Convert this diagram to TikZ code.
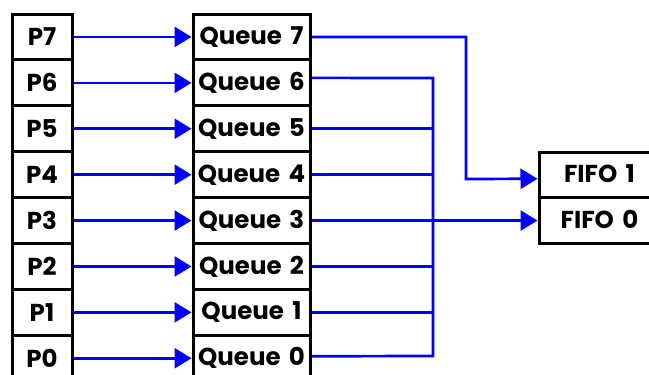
\documentclass[tikz,border=0pt]{standalone}
\usepackage{fontspec}
\setmainfont{Poppins}[WordSpace=1.6]
\usetikzlibrary{arrows.meta,calc}
\begin{document}
\begin{tikzpicture}[x=1pt,y=-1pt,
  box/.style={draw=black,line width=3pt,rectangle,inner sep=0pt,font=\fontsize{24.5}{24.5}\selectfont\bfseries},
  pbox/.style={box,minimum width=60pt,minimum height=45.9pt},
  qbox/.style={box,minimum width=117pt,minimum height=45.9pt},
  fbox/.style={box,minimum width=121pt,minimum height=45.5pt},
  link/.style={draw=blue,line width=2.7pt},
  arr/.style={link,-{Triangle[length=17pt,width=20pt]}}]
\useasboundingbox (0,0) rectangle (649,375);
\clip (0,0) rectangle (649,375);
\foreach \i in {0,...,7} {
  \pgfmathsetmacro\yc{14+22.95+(7-\i)*45.9}
  \node[pbox] (P\i) at (42,\yc) {\raisebox{-3pt}{P\i}};
  \node[qbox] (Q\i) at (251.5,\yc) {\raisebox{2pt}{Queue \i}};
  \draw[arr] (P\i) -- (Q\i);
}
\node[fbox] (F1) at (599.5,174.75) {\raisebox{2pt}{FIFO 1}};
\node[fbox] (F0) at (599.5,220.25) {\raisebox{2pt}{FIFO 0}};
\coordinate (k7) at (466,179);
\draw[arr] (Q7.east) -| (k7) -- ($(F1.west)+(0,4)$);
\coordinate (b6) at (433,78);
\coordinate (b0) at (433,356);
\draw[link] ($(Q6.east)+(0,-5)$) -- (b6) -- (b0) -- ($(Q0.east)+(0,-2)$);
\foreach \i in {5,4,2,1} {
  \draw[link] (Q\i.east) -- (Q\i.east -| b6);
}
\draw[arr] (Q3.east) -- (Q3.east -| F0.west);
\end{tikzpicture}
\end{document}
